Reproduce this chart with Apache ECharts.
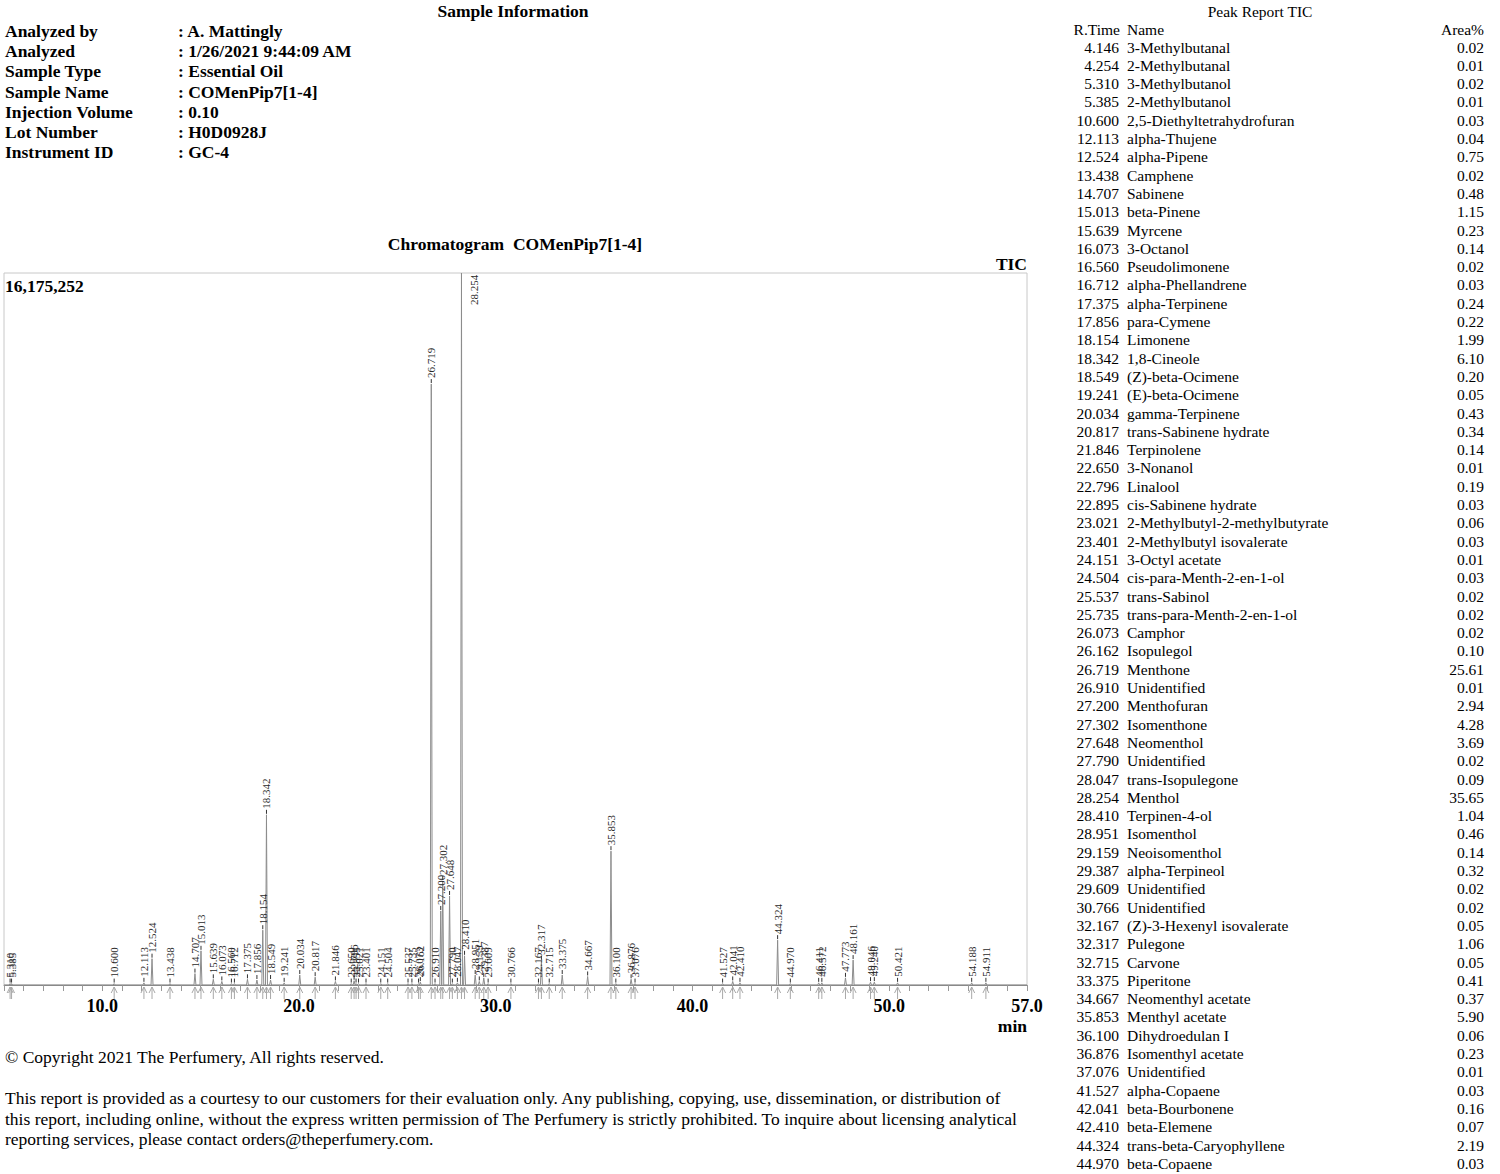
<!DOCTYPE html>
<html><head><meta charset="utf-8">
<script src="https://cdn.jsdelivr.net/npm/echarts@6/dist/echarts.min.js"></script>
<style>html,body{margin:0;padding:0;background:#fff}#c{width:1500px;height:1174px}</style>
</head><body><div id="c"></div>
<script>
// ---------- data ----------
const infoLabels = ['Analyzed by','Analyzed','Sample Type','Sample Name','Injection Volume','Lot Number','Instrument ID'];
const infoValues = ['A. Mattingly','1/26/2021 9:44:09 AM','Essential Oil','COMenPip7[1-4]','0.10','H0D0928J','GC-4'];

const tableRT = ['4.146','4.254','5.310','5.385','10.600','12.113','12.524','13.438','14.707','15.013','15.639','16.073','16.560','16.712','17.375','17.856','18.154','18.342','18.549','19.241','20.034','20.817','21.846','22.650','22.796','22.895','23.021','23.401','24.151','24.504','25.537','25.735','26.073','26.162','26.719','26.910','27.200','27.302','27.648','27.790','28.047','28.254','28.410','28.951','29.159','29.387','29.609','30.766','32.167','32.317','32.715','33.375','34.667','35.853','36.100','36.876','37.076','41.527','42.041','42.410','44.324','44.970'];
const tableName = ['3-Methylbutanal','2-Methylbutanal','3-Methylbutanol','2-Methylbutanol','2,5-Diethyltetrahydrofuran','alpha-Thujene','alpha-Pipene','Camphene','Sabinene','beta-Pinene','Myrcene','3-Octanol','Pseudolimonene','alpha-Phellandrene','alpha-Terpinene','para-Cymene','Limonene','1,8-Cineole','(Z)-beta-Ocimene','(E)-beta-Ocimene','gamma-Terpinene','trans-Sabinene hydrate','Terpinolene','3-Nonanol','Linalool','cis-Sabinene hydrate','2-Methylbutyl-2-methylbutyrate','2-Methylbutyl isovalerate','3-Octyl acetate','cis-para-Menth-2-en-1-ol','trans-Sabinol','trans-para-Menth-2-en-1-ol','Camphor','Isopulegol','Menthone','Unidentified','Menthofuran','Isomenthone','Neomenthol','Unidentified','trans-Isopulegone','Menthol','Terpinen-4-ol','Isomenthol','Neoisomenthol','alpha-Terpineol','Unidentified','Unidentified','(Z)-3-Hexenyl isovalerate','Pulegone','Carvone','Piperitone','Neomenthyl acetate','Menthyl acetate','Dihydroedulan I','Isomenthyl acetate','Unidentified','alpha-Copaene','beta-Bourbonene','beta-Elemene','trans-beta-Caryophyllene','beta-Copaene'];
const tableArea = ['0.02','0.01','0.02','0.01','0.03','0.04','0.75','0.02','0.48','1.15','0.23','0.14','0.02','0.03','0.24','0.22','1.99','6.10','0.20','0.05','0.43','0.34','0.14','0.01','0.19','0.03','0.06','0.03','0.01','0.03','0.02','0.02','0.02','0.10','25.61','0.01','2.94','4.28','3.69','0.02','0.09','35.65','1.04','0.46','0.14','0.32','0.02','0.02','0.05','1.06','0.05','0.41','0.37','5.90','0.06','0.23','0.01','0.03','0.16','0.07','2.19','0.03'];

// peaks drawn in the chromatogram (retention time, min / apex intensity, counts)
const peakRT = [5.310,5.385,10.600,12.113,12.524,13.438,14.707,15.013,15.639,16.073,16.560,16.712,17.375,17.856,18.154,18.342,18.549,19.241,20.034,20.817,21.846,22.650,22.796,22.895,23.021,23.401,24.151,24.504,25.537,25.735,26.073,26.162,26.719,26.910,27.200,27.302,27.648,27.790,28.047,28.254,28.410,28.951,29.159,29.387,29.609,30.766,32.167,32.317,32.715,33.375,34.667,35.853,36.100,36.876,37.076,41.527,42.041,42.410,44.324,44.970,46.411,46.572,47.773,48.161,49.046,49.240,50.421,54.188,54.911];
const peakHeight = [32000,32000,32000,49000,598000,32000,259000,776000,129000,81000,32000,32000,129000,113000,1245000,3866000,113000,49000,226000,178000,81000,32000,97000,32000,32000,32000,32000,32000,32000,32000,32000,65000,13652000,32000,1682000,2362000,2022000,32000,49000,16175252,663000,226000,81000,162000,32000,32000,32000,550000,32000,226000,194000,3041000,32000,129000,32000,32000,81000,49000,1019000,32000,49000,49000,162000,566000,65000,65000,49000,49000,49000];

const yMax = 16175252;
const xMin = 5, xMax = 57;
const xLabelValues = [10, 20, 30, 40, 50, 57];
const disclaimerLines = [
  'This report is provided as a courtesy to our customers for their evaluation only. Any publishing, copying, use, dissemination, or distribution of',
  'this report, including online, without the express written permission of The Perfumery is strictly prohibited. To inquire about licensing analytical',
  'reporting services, please contact orders@theperfumery.com.'
];

// ---------- rendering ----------
const SERIF = '"Liberation Serif", "Times New Roman", Times, serif';
const BOLD = 'bold 17.5px ' + SERIF;
const REG = '17.5px ' + SERIF;
const TAB = '15.5px ' + SERIF;

function txt(text, x, y, font, align) {
  return { type: 'text', x: x, y: y, silent: true,
    style: { text: text, font: font, fill: '#000', align: align || 'left', verticalAlign: 'middle' } };
}
const g = [];
g.push(txt('Sample Information', 513, 11, BOLD, 'center'));
infoLabels.forEach((l, i) => {
  g.push(txt(l, 5, 31 + i * 20.2, BOLD));
  g.push(txt(': ' + infoValues[i], 178, 31 + i * 20.2, BOLD));
});
g.push(txt('Chromatogram  COMenPip7[1-4]', 515, 244, BOLD, 'center'));
g.push(txt('TIC', 1027, 264, BOLD, 'right'));
g.push(txt('16,175,252', 5, 286, BOLD));
g.push(txt('min', 1027, 1026, BOLD, 'right'));
g.push(txt('\u00A9 Copyright 2021 The Perfumery, All rights reserved.', 5, 1057, REG));
disclaimerLines.forEach((l, i) => g.push(txt(l, 5, 1098 + i * 20.5, REG)));
g.push(txt('Peak Report TIC', 1260, 11, TAB, 'center'));
g.push(txt('R.Time', 1120, 29, TAB, 'right'));
g.push(txt('Name', 1127, 29, TAB));
g.push(txt('Area%', 1484, 29, TAB, 'right'));
tableRT.forEach((r, i) => {
  const y = 47 + i * 18.3;
  g.push(txt(r, 1119, y, TAB, 'right'));
  g.push(txt(tableName[i], 1127, y, TAB));
  g.push(txt(tableArea[i], 1484, y, TAB, 'right'));
});

// chromatogram trace built from the peaks
const trace = [[xMin, 0]];
peakRT.forEach((t, i) => { trace.push([t - 0.05, 0], [t, peakHeight[i]], [t + 0.05, 0]); });
trace.push([xMax, 0]);

const peakData = peakRT.map((t, i) => [t, peakHeight[i]]);

function renderPeak(params, api) {
  const rt = api.value(0), h = api.value(1);
  const p = api.coord([rt, h]);
  const b = api.coord([rt, 0]);
  const top = params.coordSys.y;
  const label = peakRT[params.dataIndex].toFixed(3);
  const ch = [];
  const ac = '#a8a8a8';
  ch.push({ type: 'line', shape: { x1: b[0], y1: b[1] + 2, x2: b[0], y2: b[1] + 14 }, style: { stroke: ac, lineWidth: 1 } });
  ch.push({ type: 'polyline', shape: { points: [[b[0] - 3, b[1] + 8], [b[0], b[1] + 2], [b[0] + 3, b[1] + 8]] }, style: { stroke: ac, fill: null, lineWidth: 1 } });
  let lx, ly;
  if (p[1] - 40 < top) {
    lx = p[0] + 13; ly = top + 32;
  } else {
    ch.push({ type: 'line', shape: { x1: p[0], y1: p[1] - 1, x2: p[0], y2: p[1] - 5 }, style: { stroke: '#333', lineWidth: 1 } });
    lx = p[0]; ly = p[1] - 6;
  }
  ch.push({ type: 'text', x: lx, y: ly, rotation: Math.PI / 2,
    style: { text: label, font: '11px ' + SERIF, fill: '#2a2a2a', align: 'left', verticalAlign: 'middle' } });
  return { type: 'group', children: ch };
}

const chart = echarts.init(document.getElementById('c'), null, { renderer: 'svg' });
chart.setOption({
  animation: false,
  backgroundColor: '#fff',
  grid: { left: 4, right: 473, top: 273, bottom: 189, show: true, borderColor: '#c8c8c8', borderWidth: 1 },
  xAxis: {
    type: 'value', min: xMin, max: xMax, interval: 1,
    axisLine: { show: true, lineStyle: { color: '#888', width: 1 } },
    axisTick: { show: true, length: 6, lineStyle: { color: '#999' } },
    splitLine: { show: false },
    axisLabel: {
      margin: 12, color: '#000', fontFamily: SERIF, fontWeight: 'bold', fontSize: 18,
      formatter: v => xLabelValues.indexOf(v) >= 0 ? v.toFixed(1) : ''
    }
  },
  yAxis: { type: 'value', min: 0, max: yMax, show: false, splitLine: { show: false } },
  series: [
    { type: 'line', data: trace, symbol: 'none', clip: true,
      lineStyle: { color: '#8c8c8c', width: 1 }, z: 2 },
    { type: 'custom', data: peakData, renderItem: renderPeak, clip: false, z: 3,
      encode: { x: 0, y: 1 } }
  ],
  graphic: { elements: g }
});
</script></body></html>
